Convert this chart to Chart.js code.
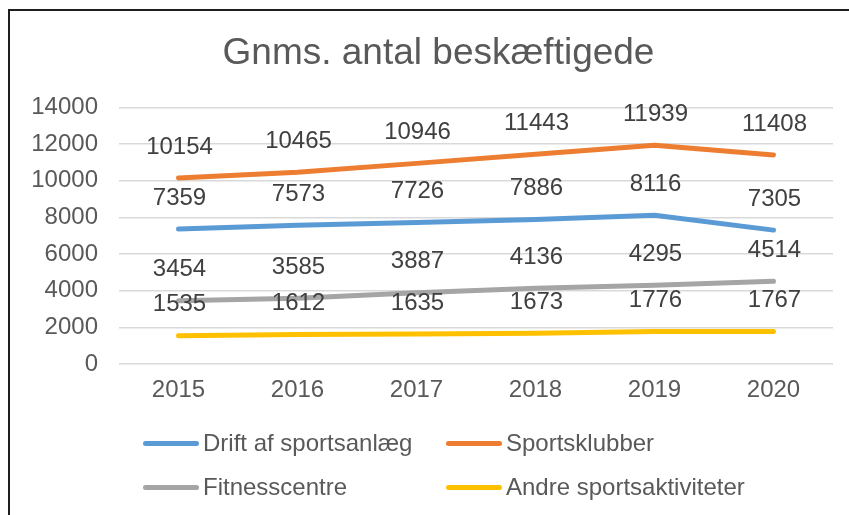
<!DOCTYPE html>
<html><head><meta charset="utf-8">
<script src="https://cdn.jsdelivr.net/npm/chart.js@4.4.1/dist/chart.umd.min.js"></script>
<style>
html,body{margin:0;padding:0;background:#fff;overflow:hidden;}
#wrap{position:relative;width:849px;height:515px;}
#frame{position:absolute;left:8px;top:9px;width:900px;height:600px;border:2px solid #1e1e1e;box-sizing:border-box;pointer-events:none;}
canvas{position:absolute;left:0;top:0;}
.lg{position:absolute;font-family:"Liberation Sans",Arial,sans-serif;font-size:24px;color:#595959;white-space:nowrap;line-height:28px;}
.lg .ln{position:absolute;left:0;top:12px;width:56px;height:5px;border-radius:3px;}
.lg .tx{position:absolute;left:60px;top:0;}
</style></head>
<body><div id="wrap"><canvas id="c" width="849" height="515"></canvas><div id="frame"></div><div id="legend"></div></div>
<script>
const categories = ["2015","2016","2017","2018","2019","2020"];
const seriesNames = ["Drift af sportsanlæg","Sportsklubber","Fitnesscentre","Andre sportsaktiviteter"];
const drift = [7359,7573,7726,7886,8116,7305];
const klubber = [10154,10465,10946,11443,11939,11408];
const fitness = [3454,3585,3887,4136,4295,4514];
const andre = [1535,1612,1635,1673,1776,1767];
const yTicks = [0,2000,4000,6000,8000,10000,12000,14000];
const colors = ["#5B9BD5","#ED7D31","#A5A5A5","#FFC000"];
const FONT = "'Liberation Sans', Arial, sans-serif";

const seriesValues = [drift, klubber, fitness, andre];
const datasets = seriesValues.map((v,i)=>({
  label: seriesNames[i], data: v, borderColor: colors[i], backgroundColor: colors[i],
  borderWidth: 5, pointRadius: 0, pointHoverRadius: 0, tension: 0,
  borderCapStyle: 'round', borderJoinStyle: 'round', fill: false
}));

const labelPlugin = {
  id: 'valueLabels',
  afterDatasetsDraw(chart){
    const ctx = chart.ctx;
    ctx.save();
    ctx.font = "24px " + FONT;
    ctx.fillStyle = "#404040";
    ctx.textAlign = "center";
    ctx.textBaseline = "middle";
    chart.data.datasets.forEach((ds, di)=>{
      const meta = chart.getDatasetMeta(di);
      meta.data.forEach((pt, i)=>{
        ctx.fillText(String(ds.data[i]), pt.x + 1, pt.y - 31);
      });
    });
    ctx.restore();
  }
};

// shift the title block so it is centred like the reference
const titleShift = {
  id: 'titleShift',
  afterLayout(chart){
    if (chart.titleBlock) { chart.titleBlock.left += 44; }
  }
};

const chart = new Chart(document.getElementById('c'), {
  type: 'line',
  data: { labels: categories, datasets },
  plugins: [labelPlugin, titleShift],
  options: {
    responsive: false, animation: false, devicePixelRatio: 1,
    layout: { padding: { left: 0, right: 16, top: 0, bottom: 111 } },
    plugins: {
      legend: { display: false },
      tooltip: { enabled: false },
      title: { display: true, text: "Gnms. antal beskæftigede", color: "#595959",
        font: { family: FONT, size: 37, weight: 'normal', lineHeight: 1.2 },
        padding: { top: 32, bottom: 31 } }
    },
    scales: {
      x: {
        offset: true,
        grid: { display: false, drawTicks: false },
        border: { display: false },
        ticks: { color: "#595959", font: { family: FONT, size: 24 }, padding: 12, maxRotation: 0 },
        afterFit(s){ s.height = 40; }
      },
      y: {
        min: 0, max: 14000,
        afterBuildTicks(s){ s.ticks = yTicks.map(v=>({value:v})); },
        grid: { color: "#D9D9D9", lineWidth: 1.5, drawTicks: false },
        border: { display: false },
        ticks: { color: "#595959", font: { family: FONT, size: 24 }, padding: 21,
          callback: (v)=>String(v) },
        afterFit(s){ s.width = 119; }
      }
    }
  }
});

// legend (HTML) built from the chart's datasets
const legendPos = [[143,429],[446,429],[143,473],[446,473]];
const lg = document.getElementById('legend');
chart.data.datasets.forEach((ds,i)=>{
  const d = document.createElement('div');
  d.className = 'lg';
  d.style.left = legendPos[i][0] + 'px';
  d.style.top = legendPos[i][1] + 'px';
  d.innerHTML = '<span class="ln" style="background:'+ds.borderColor+'"></span><span class="tx"></span>';
  d.querySelector('.tx').textContent = ds.label;
  lg.appendChild(d);
});
</script></body></html>
